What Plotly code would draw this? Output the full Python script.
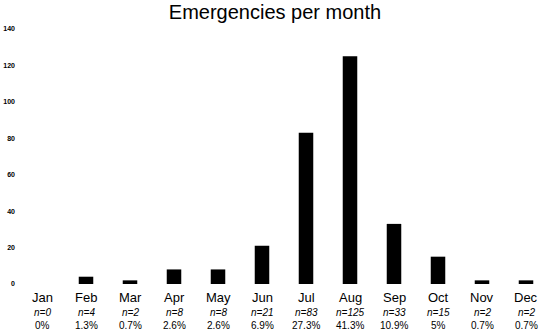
import plotly.graph_objects as go

months = ["Jan", "Feb", "Mar", "Apr", "May", "Jun", "Jul", "Aug", "Sep", "Oct", "Nov", "Dec"]
counts = [0, 4, 2, 8, 8, 21, 83, 125, 33, 15, 2, 2]
percents = ["0%", "1.3%", "0.7%", "2.6%", "2.6%", "6.9%", "27.3%", "41.3%", "10.9%", "5%", "0.7%", "0.7%"]
y_ticks = [0, 20, 40, 60, 80, 100, 120, 140]

FONT = "Liberation Sans, Arial, sans-serif"

fig = go.Figure()
fig.add_trace(go.Bar(x=months, y=counts, marker=dict(color="black", line=dict(width=0)), width=0.33))

annotations = []
for m, c, p in zip(months, counts, percents):
    annotations.append(dict(x=m, y=0, xref="x", yref="paper", text=m, showarrow=False,
                            yanchor="middle", yshift=-13, font=dict(size=13, color="black", family=FONT)))
    annotations.append(dict(x=m, y=0, xref="x", yref="paper", text=f"<i>n={c}</i>", showarrow=False,
                            yanchor="middle", yshift=-28, font=dict(size=10, color="black", family=FONT)))
    annotations.append(dict(x=m, y=0, xref="x", yref="paper", text=p, showarrow=False,
                            yanchor="middle", yshift=-41, font=dict(size=10, color="black", family=FONT)))

fig.update_layout(
    width=550, height=335,
    margin=dict(l=20, r=2, t=29, b=51),
    paper_bgcolor="white", plot_bgcolor="white",
    title=dict(text="Emergencies per month", x=0.5, xanchor="center", y=1 - 12 / 335, yanchor="middle",
               font=dict(size=20, color="black", family=FONT)),
    showlegend=False,
    annotations=annotations,
    font=dict(family=FONT),
)
fig.update_xaxes(showticklabels=False, showgrid=False, zeroline=False, showline=False, ticks="",
                 range=[-0.5, 11.5])
fig.update_yaxes(range=[0, 140], tickvals=y_ticks, showgrid=False, zeroline=False, showline=False,
                 ticks="", ticklabelstandoff=4,
                 tickfont=dict(size=7, color="black", family=FONT, weight="bold"))

fig.write_html("out.html", config={"displayModeBar": False},
               post_script="document.body.style.margin='0';document.body.style.overflow='hidden';")
